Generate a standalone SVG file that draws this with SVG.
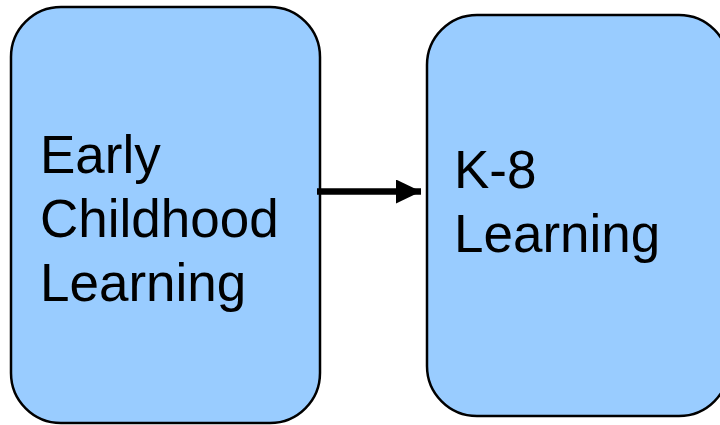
<svg xmlns="http://www.w3.org/2000/svg" width="720" height="425" viewBox="0 0 720 425">
<defs>
<style>
.box{fill:#99CCFF;stroke:#000;stroke-width:2.5}
.lbl{font-family:"Liberation Sans",Arial,sans-serif;font-size:53px;fill:#000}
</style>
<marker id="ah" markerUnits="userSpaceOnUse" markerWidth="26" markerHeight="24" refX="25" refY="12" orient="auto">
<path d="M0,0 L25,12 L0,24 Z" fill="#000"/>
</marker>
</defs>
<rect width="720" height="425" fill="#fff"/>
<g id="node-early">
<rect class="box" x="11" y="7" width="309" height="416" rx="50" ry="50"/>
<text class="lbl"><tspan x="40" y="173">Early</tspan><tspan x="40" y="237">Childhood</tspan><tspan x="40" y="301">Learning</tspan></text>
</g>
<g id="node-k8">
<rect class="box" x="427" y="15" width="302" height="401" rx="50" ry="50"/>
<text class="lbl"><tspan x="454" y="188">K-8</tspan><tspan x="454" y="252">Learning</tspan></text>
</g>
<g id="connectors">
<line x1="317" y1="191.5" x2="421" y2="191.5" stroke="#000" stroke-width="6.5" marker-end="url(#ah)"/>
</g>
</svg>
